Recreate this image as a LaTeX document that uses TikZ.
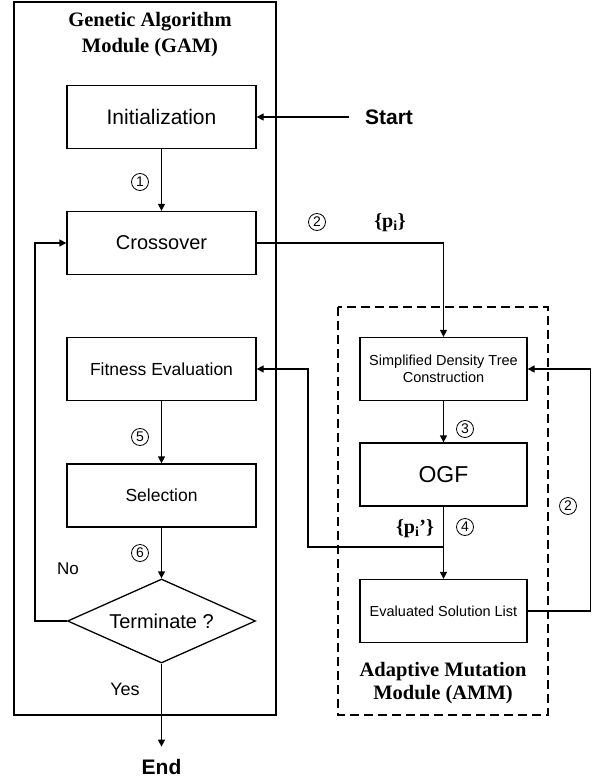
\documentclass[tikz,border=0pt]{standalone}
\usepackage{fontspec}
\setmainfont{Liberation Sans}
\newfontfamily\timesfont{Liberation Serif}
\usetikzlibrary{arrows.meta,shapes.geometric}

\begin{document}
\begin{tikzpicture}[x=1pt,y=-1pt,line width=1.3pt,
  flow/.style={-{Triangle[length=7pt,width=7pt]}},
  gabox/.style={draw,minimum width=189pt,minimum height=63pt,inner sep=2pt},
  ambox/.style={draw,minimum width=167pt,minimum height=63pt,inner sep=2pt,align=center},
  decision/.style={draw,diamond,aspect=2.24,minimum width=188pt,minimum height=84pt,inner sep=0pt},
  num/.style={draw,circle,line width=0.8pt,minimum size=17pt,inner sep=0pt,font=\fontsize{14pt}{14pt}\selectfont},
  modtitle/.style={align=center,font=\timesfont\bfseries\fontsize{20.5pt}{24pt}\selectfont},
  setlabel/.style={font=\timesfont\bfseries\fontsize{20pt}{20pt}\selectfont},
  term/.style={font=\bfseries\fontsize{21pt}{21pt}\selectfont}]
\useasboundingbox (0,0) rectangle (597,781);

% Genetic algorithm module
\draw (14,2) rectangle (276,715);
\node[modtitle] (gamtitle) at (150,35) {Genetic Algorithm\\[2pt]Module (GAM)};

\node[gabox,font=\fontsize{21pt}{21pt}\selectfont] (init) at (161.5,117) {Initialization};
\node[gabox,font=\fontsize{20pt}{20pt}\selectfont] (cross) at (161.5,243) {Crossover};
\node[gabox,font=\fontsize{17.5pt}{17.5pt}\selectfont] (fit) at (161.5,369) {Fitness Evaluation};
\node[gabox,font=\fontsize{17.5pt}{17.5pt}\selectfont] (sel) at (161.5,495.5) {Selection};
\node[decision,font=\fontsize{20pt}{20pt}\selectfont] (stop) at (161.5,621) {Terminate ?};

% Adaptive mutation module
\draw[dash pattern=on 9pt off 5pt] (338,307) rectangle (548,715);
\node[modtitle,font=\timesfont\bfseries\fontsize{20.5pt}{23pt}\selectfont] (ammtitle) at (443,683) {Adaptive Mutation\\Module (AMM)};

\node[ambox,font=\fontsize{14.5pt}{16.5pt}\selectfont] (tree) at (443.5,369) {Simplified Density Tree\\Construction};
\node[ambox,font=\fontsize{23pt}{23pt}\selectfont] (ogf) at (443.5,474.5) {OGF};
\node[ambox,font=\fontsize{14.5pt}{14.5pt}\selectfont] (evsl) at (443.5,611) {Evaluated Solution List};

% Start and end
\node[term,inner xsep=15pt] (start) at (389,117) {Start};
\node[term,inner ysep=12pt] (end) at (161.5,767) {End};

% Flow
\draw[flow] (start.west) -- (init.east);
\draw[flow] (init.south) -- (cross.north);
\draw[flow] (cross.east) -| (tree.north);
\draw[flow] (tree.south) -- (ogf.north);
\draw[flow] (ogf.south) -- (evsl.north);
\coordinate (tap) at (443.5,547);
\draw[flow] (tap) -- ++(-135.5,0) |- (fit.east);
\draw[flow] (evsl.east) -- ++(63,0) |- (tree.east);
\draw[flow] (fit.south) -- (sel.north);
\draw[flow] (sel.south) -- (stop.north);
\draw[flow] (stop.west) -- ++(-32,0) |- (cross.west);
\draw[flow] (stop.south) -- (end.north);

% Labels
\node[num] (n1) at (140,182) {1};
\node[num] (n2) at (317,222) {2};
\node[num] (n3) at (465,429) {3};
\node[num] (n4) at (465,527) {4};
\node[num] (n5) at (140,437) {5};
\node[num] (n6) at (140,553) {6};
\node[num] (n2b) at (568,506) {2};
\node[setlabel] (pset) at (390,223) {\{p\textsubscript{i}\}};
\node[setlabel] (pnew) at (415,529) {\{p\textsubscript{i}’\}};
\node[font=\fontsize{17pt}{17pt}\selectfont] (no) at (68,569) {No};
\node[font=\fontsize{18pt}{18pt}\selectfont] (yes) at (125,689) {Yes};
\end{tikzpicture}
\end{document}
